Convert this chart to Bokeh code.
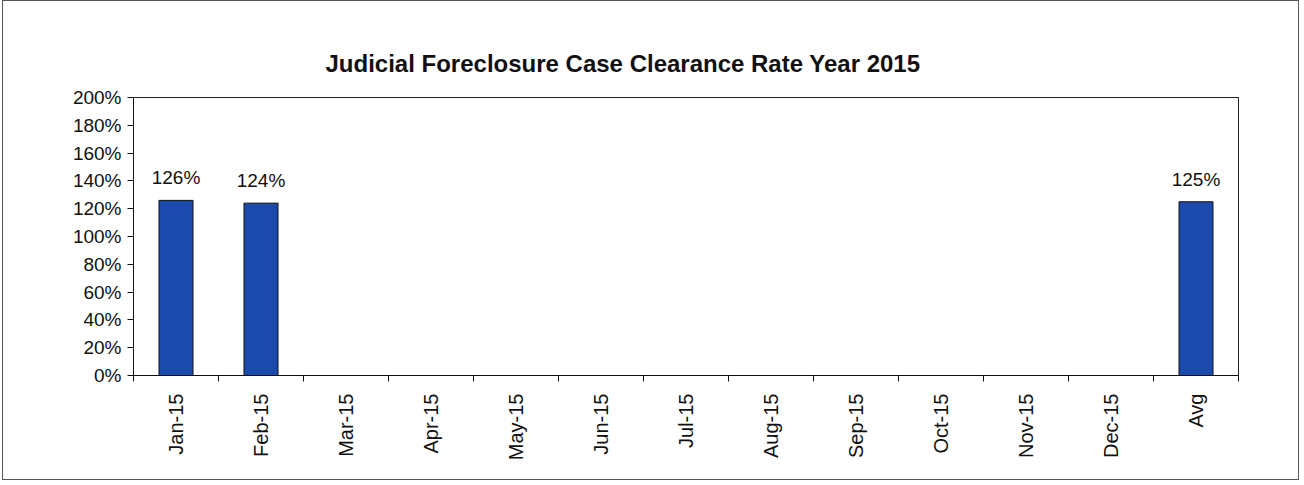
from bokeh.plotting import figure
from bokeh.models import FixedTicker, NumeralTickFormatter, ColumnDataSource, LinearAxis
from bokeh.core.properties import value
from bokeh.embed import file_html
from bokeh.resources import INLINE
from math import pi

# Data
categories = ["Jan-15", "Feb-15", "Mar-15", "Apr-15", "May-15", "Jun-15", "Jul-15",
              "Aug-15", "Sep-15", "Oct-15", "Nov-15", "Dec-15", "Avg"]
bar_categories = ["Jan-15", "Feb-15", "Avg"]
bar_values = [1.26, 1.24, 1.25]
y_ticks = [0, 0.2, 0.4, 0.6, 0.8, 1.0, 1.2, 1.4, 1.6, 1.8, 2.0]

FONT = "Liberation Sans"

centers = [i + 0.5 for i in range(len(categories))]
bounds = [i for i in range(len(categories) + 1)]
bar_x = [categories.index(c) + 0.5 for c in bar_categories]
src = ColumnDataSource(dict(x=bar_x, top=bar_values,
                            label=[f"{round(v*100)}%" for v in bar_values]))

p = figure(width=1297, height=480, output_backend="svg", toolbar_location=None,
           x_range=(0, len(categories)), y_range=(0, 2.0),
           x_axis_type=None, y_axis_type=None,
           min_border_left=130, min_border_right=62, min_border_top=96, min_border_bottom=106,
           title="Judicial Foreclosure Case Clearance Rate Year 2015")
p.styles = {"border": "1px solid #555", "margin-left": "2px", "margin-top": "0px"}
p.background_fill_color = "white"
p.border_fill_color = "white"
p.outline_line_color = "#222222"
p.outline_line_width = 1

p.title.text_font = FONT
p.title.text_font_size = "24px"
p.title.text_font_style = "bold"
p.title.text_color = "#111111"
p.title.align = "left"
p.title.offset = 192
p.title.standoff = 42

# y axis
yax = LinearAxis(ticker=FixedTicker(ticks=y_ticks),
                 formatter=NumeralTickFormatter(format="0%"))
yax.major_label_text_font = FONT
yax.major_label_text_font_size = "19px"
yax.major_label_text_color = "#111111"
yax.major_tick_out = 6
yax.major_tick_in = 0
yax.minor_tick_out = 0
yax.minor_tick_in = 0
yax.axis_line_color = "#111111"
yax.major_tick_line_color = "#111111"
yax.major_label_standoff = 6
p.add_layout(yax, "left")

# x axis: labels at centers, ticks at boundaries (minor ticks)
xax = LinearAxis(ticker=FixedTicker(ticks=centers, minor_ticks=bounds))
xax.major_label_overrides = {c: lab for c, lab in zip(centers, categories)}
xax.major_label_orientation = pi / 2
xax.major_label_text_font = FONT
xax.major_label_text_font_size = "20px"
xax.major_label_text_color = "#111111"
xax.major_tick_out = 0
xax.major_tick_in = 0
xax.minor_tick_out = 6
xax.minor_tick_in = 0
xax.minor_tick_line_color = "#111111"
xax.axis_line_color = "#111111"
xax.major_label_standoff = 12
p.add_layout(xax, "below")

p.xgrid.visible = False
p.ygrid.ticker = FixedTicker(ticks=y_ticks)
p.ygrid.grid_line_color = "#222222"
p.ygrid.grid_line_width = 1

p.vbar(x="x", top="top", width=0.4, bottom=0, source=src,
       fill_color="#1c4aac", line_color="#111111", line_width=1)

p.text(x="x", y="top", text="label", source=src, text_align="center",
       text_baseline="bottom", y_offset=-12, text_font=value(FONT),
       text_font_size="19px", text_color="#111111")

open("out.html", "w").write(file_html(p, INLINE))
